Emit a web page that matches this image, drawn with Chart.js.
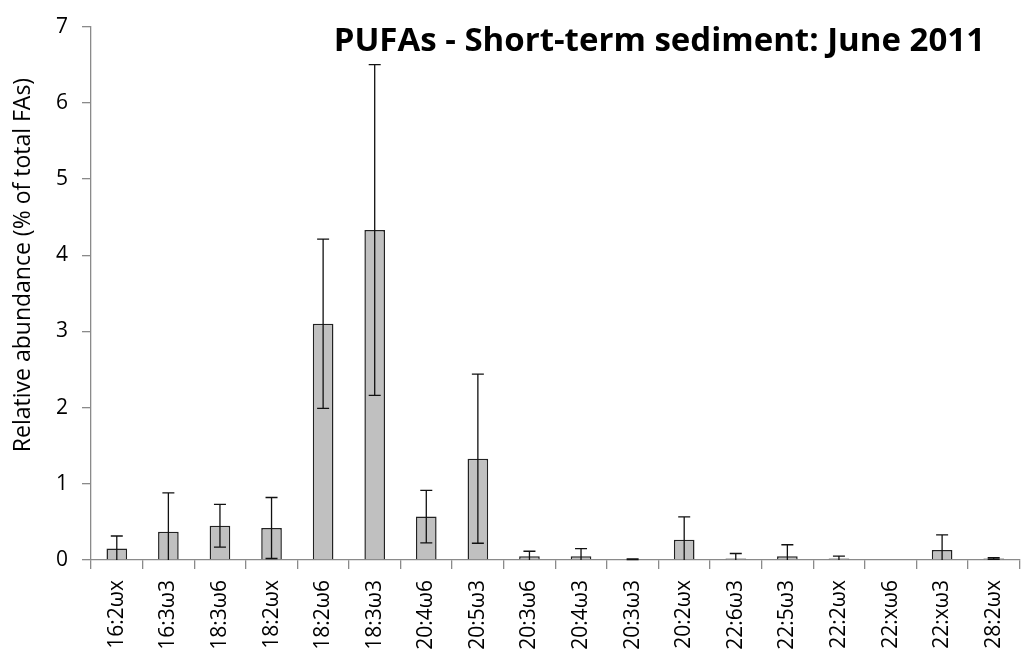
<!DOCTYPE html>
<html>
<head>
<meta charset="utf-8">
<script src="https://cdn.jsdelivr.net/npm/chart.js@4/dist/chart.umd.min.js"></script>
<style>
  html, body { margin: 0; padding: 0; background: #fff; overflow: hidden; }
  #wrap { width: 1030px; height: 659px; }
</style>
</head>
<body>
<div id="wrap"><canvas id="bar-chart" width="1030" height="659"></canvas></div>
<script>
var acidi = ['16:2ωx', '16:3ω3', '18:3ω6', '18:2ωx', '18:2ω6', '18:3ω3', '20:4ω6', '20:5ω3', '20:3ω6',
             '20:4ω3', '20:3ω3', '20:2ωx', '22:6ω3', '22:5ω3', '22:2ωx', '22:xω6', '22:xω3', '28:2ωx'];
var medie = [0.15, 0.37, 0.45, 0.42, 3.10, 4.33, 0.57, 1.33, 0.05, 0.05, 0.01, 0.265, 0.02, 0.05, 0.02, 0.01, 0.13, 0.02];
var errori = [0.165, 0.51, 0.28, 0.40, 1.11, 2.17, 0.345, 1.11, 0.065, 0.10, 0.005, 0.30, 0.065, 0.15, 0.03, 0, 0.2, 0.01];
var tickY = [0, 1, 2, 3, 4, 5, 6, 7];

var titolo = 'PUFAs - Short-term sediment: June 2011';
var titoloY = 'Relative abundance (% of total FAs)';
var font = '"Open Sans", sans-serif';

// barre d'errore disegnate sopra le barre
var erroriPlugin = {
    id: 'erroriPlugin',
    afterDatasetsDraw: function(chart) {
        var ctx = chart.ctx;
        var y = chart.scales.y;
        var meta = chart.getDatasetMeta(0);
        ctx.save();
        ctx.strokeStyle = '#111';
        ctx.lineWidth = 1.3;
        for (var i = 0; i < medie.length; i++) {
            if (!errori[i]) continue;
            var x = meta.data[i].x;
            var alto = y.getPixelForValue(medie[i] + errori[i]);
            var basso = medie[i] - errori[i];
            var yBasso = y.getPixelForValue(Math.max(0, basso));
            ctx.beginPath();
            ctx.moveTo(x, alto);
            ctx.lineTo(x, yBasso);
            ctx.moveTo(x - 6, alto);
            ctx.lineTo(x + 6, alto);
            if (basso > 0) {
                ctx.moveTo(x - 6, yBasso);
                ctx.lineTo(x + 6, yBasso);
            }
            ctx.stroke();
        }
        ctx.restore();
    }
};

// titolo del grafico (dentro l'area, a destra) e titolo dell'asse y
var titoloPlugin = {
    id: 'titoloPlugin',
    afterDraw: function(chart) {
        var ctx = chart.ctx;
        ctx.save();
        ctx.fillStyle = '#000';
        ctx.font = 'bold 33px ' + font;
        ctx.textAlign = 'right';
        ctx.textBaseline = 'alphabetic';
        ctx.fillText(titolo, 985, 51);

        ctx.translate(23, 265);
        ctx.rotate(-Math.PI / 2);
        ctx.font = '23px ' + font;
        ctx.textAlign = 'center';
        ctx.textBaseline = 'middle';
        ctx.fillText(titoloY, 0, 0);
        ctx.restore();
    }
};

var ctx = document.getElementById('bar-chart');
var barChart = new Chart(ctx, {
    type: 'bar',
    data: {
        labels: acidi,
        datasets: [{
            data: medie,
            backgroundColor: '#c0c0c0',
            borderColor: '#222',
            borderWidth: 1.5,
            barPercentage: 0.4,
            categoryPercentage: 1.0
        }]
    },
    options: {
        responsive: false,
        animation: false,
        layout: { padding: { top: 20, right: 4, left: 0, bottom: 0 } },
        plugins: {
            legend: { display: false },
            tooltip: { enabled: false }
        },
        scales: {
            x: {
                offset: true,
                afterFit: function(axis) { axis.height = 99; },
                border: { color: '#8a8a8a', width: 1.3 },
                grid: { offset: true, drawOnChartArea: false, color: '#8a8a8a', tickLength: 9, lineWidth: 1.3 },
                ticks: {
                    minRotation: 90,
                    maxRotation: 90,
                    color: '#000',
                    padding: 11,
                    font: { family: font, size: 21 }
                }
            },
            y: {
                min: 0,
                max: 7,
                afterFit: function(axis) { axis.width = 91; },
                afterBuildTicks: function(axis) {
                    axis.ticks = tickY.map(function(v) { return { value: v }; });
                },
                border: { color: '#8a8a8a', width: 1.3 },
                grid: { drawOnChartArea: false, color: '#8a8a8a', tickLength: 9, lineWidth: 1.3 },
                ticks: {
                    color: '#000',
                    padding: 14,
                    font: { family: font, size: 21 }
                }
            }
        }
    },
    plugins: [erroriPlugin, titoloPlugin]
});
</script>
</body>
</html>
